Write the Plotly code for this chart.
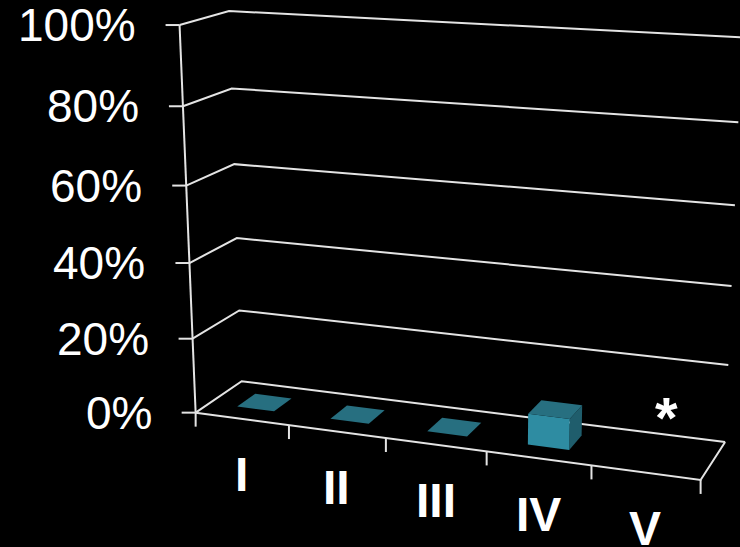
import numpy as np
import plotly.graph_objects as go

# ---------------- data ----------------
categories = ["I", "II", "III", "IV", "V"]
values = [0, 0, 0, 8, None]          # percent (None = no bar)
notes = ["", "", "", "", "*"]
z_ticks = [0, 20, 40, 60, 80, 100]
z_labels = ["0%", "20%", "40%", "60%", "80%", "100%"]

# ---------------- 3D frame calibration (world -> page pixels) ----------------
# world: X = category units (0..5), Y = depth (0 front .. 1 back), Z = fraction of 100%
CAL_WORLD = [
    (0, 0, 0), (0, 0, .2), (0, 0, .4), (0, 0, .6), (0, 0, .8), (0, 0, 1),
    (0, 1, 0), (0, 1, .2), (0, 1, .4), (0, 1, .6), (0, 1, .8), (0, 1, 1),
    (1, 0, 0), (2, 0, 0), (3, 0, 0), (4, 0, 0), (5, 0, 0),
    (5, 1, 0), (5, 1, .2), (5, 1, .4), (5, 1, .6), (5, 1, .8),
]
CAL_PIX = [
    (197, 413), (192, 339), (189, 263), (186, 185), (183, 107), (180, 25),
    (242, 381), (239, 311), (237, 238), (234, 164), (232, 88), (229, 11),
    (288, 425), (386, 438), (486, 451), (592, 465), (701, 480),
    (725, 442), (728, 365), (732, 286), (735, 206), (738, 122),
]

W, H = 740, 547
cu, cv, s = W / 2, H / 2, W / 2
rows = []
for (X, Y, Z), (u, v) in zip(CAL_WORLD, CAL_PIX):
    un, vn = (u - cu) / s, (v - cv) / s
    rows.append([X, Y, Z, 1, 0, 0, 0, 0, -un * X, -un * Y, -un * Z, -un])
    rows.append([0, 0, 0, 0, X, Y, Z, 1, -vn * X, -vn * Y, -vn * Z, -vn])
_, _, Vt = np.linalg.svd(np.array(rows, dtype=float))
P = Vt[-1].reshape(3, 4)


def proj(X, Y, Zpct):
    h = P @ np.array([X, Y, Zpct / 100.0, 1.0])
    return cu + s * h[0] / h[2], cv + s * h[1] / h[2]


NCAT = len(categories)
ZMAX = z_ticks[-1]
LINE_COL = "#e4e4e4"
FONT = "Arial, Liberation Sans, sans-serif"

fig = go.Figure()

# ---------------- frame lines ----------------
lx, ly = [], []


def seg(pts):
    for p in pts:
        lx.append(p[0]); ly.append(p[1])
    lx.append(None); ly.append(None)


# gridlines on left wall and back wall
for z in z_ticks:
    seg([proj(0, 0, z), proj(0, 1, z), proj(NCAT, 1, z)])
# floor outline
seg([proj(0, 0, 0), proj(NCAT, 0, 0), proj(NCAT, 1, 0)])
# value axis
seg([proj(0, 0, 0), proj(0, 0, ZMAX)])
# value ticks
for z in z_ticks:
    x0, y0 = proj(0, 0, z)
    seg([(x0, y0), (x0 - 14, y0)])
# category ticks
for i in range(NCAT + 1):
    x0, y0 = proj(i, 0, 0)
    seg([(x0, y0), (x0, y0 + 14)])

fig.add_trace(go.Scatter(x=lx, y=ly, mode="lines",
                         line=dict(color=LINE_COL, width=2),
                         hoverinfo="skip", showlegend=False))

# ---------------- bars ----------------
FRONT_COL = "#2e8ca2"
TOP_COL = "#276f80"
SIDE_COL = "#1f5d6c"


def face(pts, col):
    xs = [p[0] for p in pts] + [pts[0][0]]
    ys = [p[1] for p in pts] + [pts[0][1]]
    fig.add_trace(go.Scatter(x=xs, y=ys, mode="lines", fill="toself",
                             fillcolor=col, line=dict(width=0, color=col),
                             hoverinfo="skip", showlegend=False))


for i, v in enumerate(values):
    if v is None:
        continue
    x0, x1 = i + 0.3, i + 0.7
    y0, y1 = 0.3, 0.7
    if v > 0:
        face([proj(x1, y0, 0), proj(x1, y1, 0), proj(x1, y1, v), proj(x1, y0, v)], SIDE_COL)
        face([proj(x0, y0, 0), proj(x1, y0, 0), proj(x1, y0, v), proj(x0, y0, v)], FRONT_COL)
    face([proj(x0, y0, v), proj(x1, y0, v), proj(x1, y1, v), proj(x0, y1, v)], TOP_COL)

# ---------------- labels ----------------
ann = []
for z, lab in zip(z_ticks, z_labels):
    x0, y0 = proj(0, 0, z)
    ann.append(dict(x=x0 - 42, y=y0, xref="x", yref="y", text=lab, showarrow=False,
                    xanchor="right", yanchor="middle",
                    font=dict(family=FONT, size=46, color="white")))
for i, c in enumerate(categories):
    x0, y0 = proj(i + 0.5, 0, 0)
    ann.append(dict(x=x0, y=y0 + 56, xref="x", yref="y", text="<b>%s</b>" % c,
                    showarrow=False, xanchor="center", yanchor="middle",
                    font=dict(family=FONT, size=48, color="white")))
for i, n in enumerate(notes):
    if n:
        x0, y0 = proj(i + 0.5, 0.5, 0)
        ann.append(dict(x=x0 + 7, y=y0 - 36, xref="x", yref="y", text="<b>%s</b>" % n,
                        showarrow=False, xanchor="center", yanchor="middle",
                        font=dict(family=FONT, size=58, color="white")))

fig.update_layout(
    width=W, height=H,
    margin=dict(l=0, r=0, t=0, b=0),
    paper_bgcolor="black", plot_bgcolor="black",
    xaxis=dict(range=[0, W], visible=False, fixedrange=True),
    yaxis=dict(range=[H, 0], visible=False, fixedrange=True),
    annotations=ann,
    showlegend=False,
)

fig.write_html("out.html")
